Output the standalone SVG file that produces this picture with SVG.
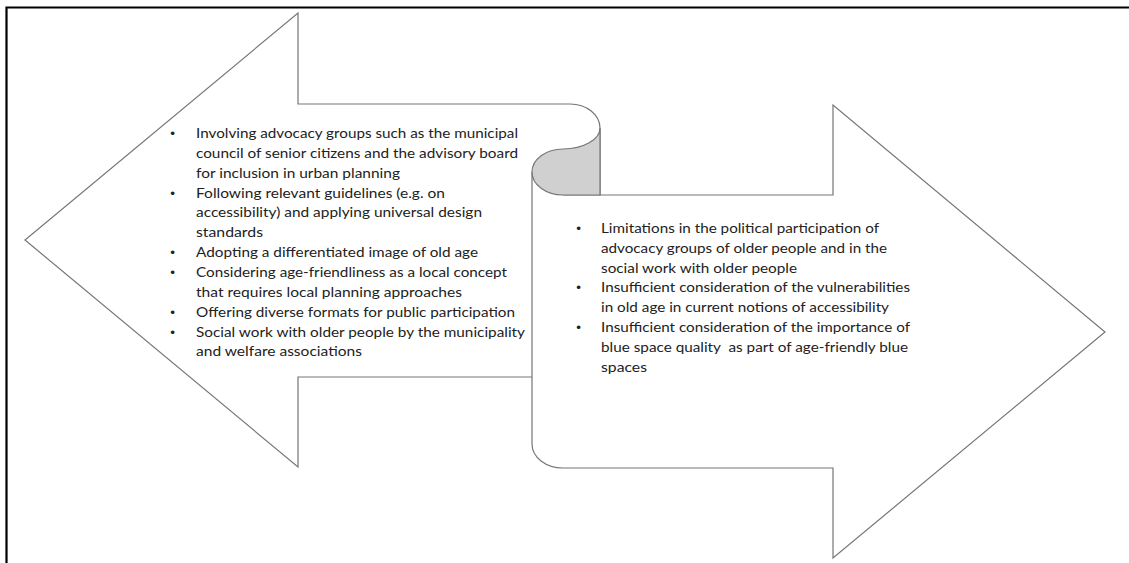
<svg xmlns="http://www.w3.org/2000/svg" width="1129" height="563" viewBox="0 0 1129 563">
  <style>
    .shape { fill: none; stroke: #767676; stroke-width: 1.2; stroke-linejoin: miter; }
    .curl { fill: #d0d0d0; stroke: #767676; stroke-width: 1.2; }
    .frame { fill: none; stroke: #000000; stroke-width: 2.2; }
    .t { font-family: Lato, "Liberation Sans", Arial, sans-serif; font-size: 14px; fill: #222222; }
    .b { font-family: "Liberation Sans", Arial, sans-serif; font-size: 13.5px; fill: #222222; text-anchor: middle; }
  </style>
  <rect x="0" y="0" width="1129" height="563" fill="#ffffff"/>
  <g id="frame">
    <path class="frame" d="M6.5,563 L6.5,7.5 L1129,7.5"/>
  </g>
  <g id="left-arrow">
    <path class="shape" d="M532,377 L298,377 L298,467 L25,240 L298,13 L298,104 L570,104 A30,24 0 0 1 600,128 L600,195"/>
  </g>
  <g id="right-arrow">
    <path class="shape" d="M563,195 L833,195 L833,105 L1105,332 L833,558 L833,468 L563,468 A31,24 0 0 1 532,444 L532,172"/>
  </g>
  <g id="curl">
    <path class="curl" d="M600,128 A37,21 0 0 1 563,149 A31,23 0 0 0 532,172 A31,23 0 0 0 563,195 L600,195 Z"/>
  </g>
  <g id="left-text">
    <text class="b" x="172.5" y="138">•</text>
    <text class="t" x="196" y="138" textLength="322" lengthAdjust="spacingAndGlyphs">Involving advocacy groups such as the municipal</text>
    <text class="t" x="196" y="157.85" textLength="322" lengthAdjust="spacingAndGlyphs">council of senior citizens and the advisory board</text>
    <text class="t" x="196" y="177.7" textLength="204" lengthAdjust="spacingAndGlyphs">for inclusion in urban planning</text>
    <text class="b" x="172.5" y="197.55">•</text>
    <text class="t" x="196" y="197.55" textLength="249" lengthAdjust="spacingAndGlyphs">Following relevant guidelines (e.g. on</text>
    <text class="t" x="196" y="217.4" textLength="286" lengthAdjust="spacingAndGlyphs">accessibility) and applying universal design</text>
    <text class="t" x="196" y="237.25" textLength="67" lengthAdjust="spacingAndGlyphs">standards</text>
    <text class="b" x="172.5" y="257.1">•</text>
    <text class="t" x="196" y="257.1" textLength="282" lengthAdjust="spacingAndGlyphs">Adopting a differentiated image of old age</text>
    <text class="b" x="172.5" y="276.95">•</text>
    <text class="t" x="196" y="276.95" textLength="311" lengthAdjust="spacingAndGlyphs">Considering age-friendliness as a local concept</text>
    <text class="t" x="196" y="296.8" textLength="266" lengthAdjust="spacingAndGlyphs">that requires local planning approaches</text>
    <text class="b" x="172.5" y="316.65">•</text>
    <text class="t" x="196" y="316.65" textLength="319" lengthAdjust="spacingAndGlyphs">Offering diverse formats for public participation</text>
    <text class="b" x="172.5" y="336.5">•</text>
    <text class="t" x="196" y="336.5" textLength="329" lengthAdjust="spacingAndGlyphs">Social work with older people by the municipality</text>
    <text class="t" x="196" y="356.35" textLength="166" lengthAdjust="spacingAndGlyphs">and welfare associations</text>
  </g>
  <g id="right-text">
    <text class="b" x="578.5" y="233">•</text>
    <text class="t" x="601" y="233" textLength="278" lengthAdjust="spacingAndGlyphs">Limitations in the political participation of</text>
    <text class="t" x="601" y="252.8" textLength="286" lengthAdjust="spacingAndGlyphs">advocacy groups of older people and in the</text>
    <text class="t" x="601" y="272.6" textLength="196" lengthAdjust="spacingAndGlyphs">social work with older people</text>
    <text class="b" x="578.5" y="292.4">•</text>
    <text class="t" x="601" y="292.4" textLength="309" lengthAdjust="spacingAndGlyphs">Insufficient consideration of the vulnerabilities</text>
    <text class="t" x="601" y="312.2" textLength="288" lengthAdjust="spacingAndGlyphs">in old age in current notions of accessibility</text>
    <text class="b" x="578.5" y="332">•</text>
    <text class="t" x="601" y="332" textLength="309" lengthAdjust="spacingAndGlyphs">Insufficient consideration of the importance of</text>
    <text class="t" x="601" y="351.8" textLength="307" lengthAdjust="spacingAndGlyphs" xml:space="preserve">blue space quality  as part of age-friendly blue</text>
    <text class="t" x="601" y="371.6" textLength="46" lengthAdjust="spacingAndGlyphs">spaces</text>
  </g>
</svg>
